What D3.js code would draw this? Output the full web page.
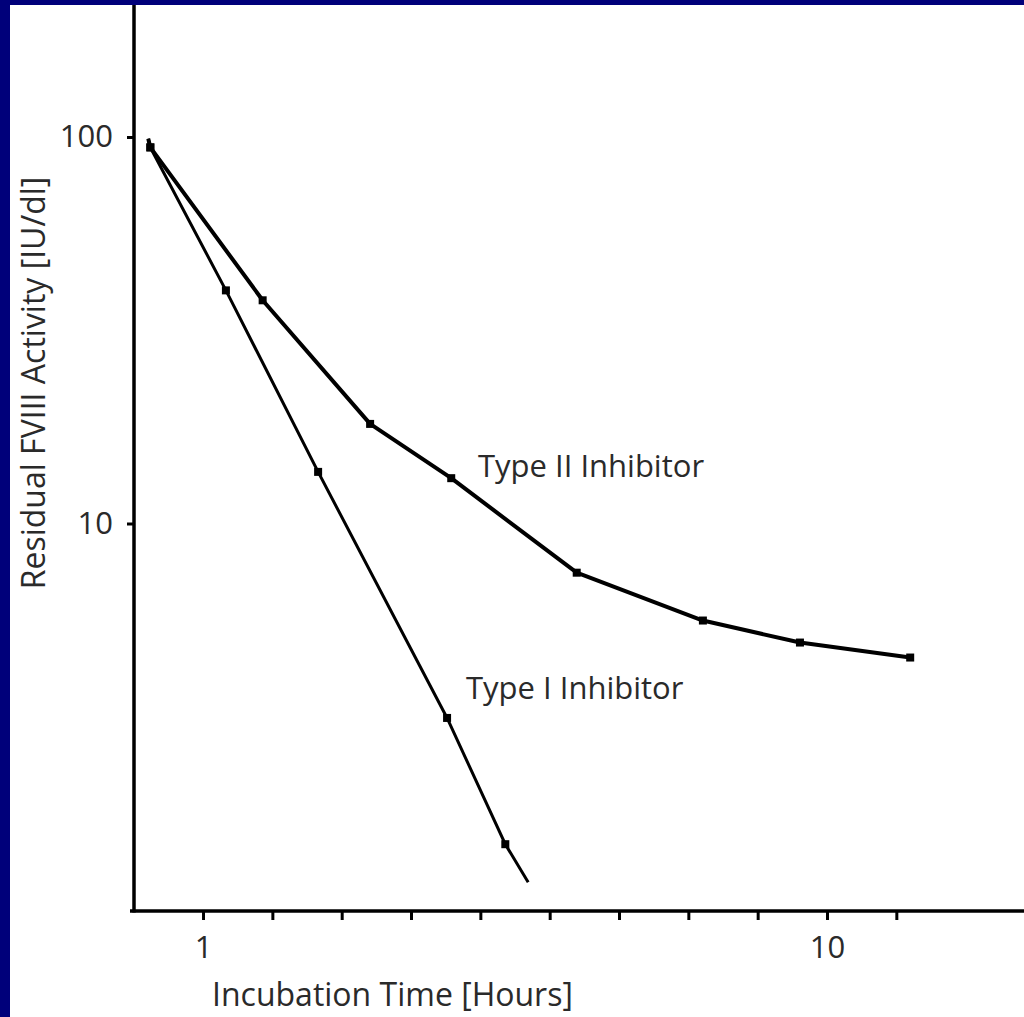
<!DOCTYPE html>
<html>
<head>
<meta charset="utf-8">
<script src="https://cdn.jsdelivr.net/npm/d3@7"></script>
<style>
  html, body { margin: 0; padding: 0; background: #00007a; }
  svg { display: block; }
  text { font-family: "Open Sans", sans-serif; fill: #2a2a2a; }
</style>
</head>
<body>
<div id="chart"></div>
<script>
// incubation time [hours] and residual FVIII activity [IU/dl]
const typeITime = [0.21, 0.24, 1.33, 2.66, 4.52, 5.36, 5.69];
const typeIActivity = [99, 94, 40.1, 13.6, 3.14, 1.48, 1.18];
const typeIMarked = [false, true, true, true, true, true, false];

const typeIITime = [0.21, 0.24, 1.86, 3.41, 4.58, 6.39, 8.21, 9.61, 11.2];
const typeIIActivity = [99, 94, 37.8, 18.1, 13.1, 7.46, 5.61, 4.92, 4.5];
const typeIIMarked = [false, true, true, true, true, true, true, true, true];

const xTicks = [1, 2, 3, 4, 5, 6, 7, 8, 9, 10, 11];
const xTickLabels = { 1: "1", 10: "10" };
const yTicks = [10, 100];

const width = 1024, height = 1017;

const svg = d3.select("#chart")
  .append("svg")
  .attr("width", width)
  .attr("height", height);

svg.append("rect")
  .attr("width", width)
  .attr("height", height)
  .attr("fill", "#00007a");

svg.append("rect")
  .attr("x", 10)
  .attr("y", 5)
  .attr("width", width - 10)
  .attr("height", height - 5)
  .attr("fill", "#fff");

const x = d3.scaleLinear()
  .domain([0, 10])
  .range([133.7, 827]);

const y = d3.scaleLog()
  .domain([1, 100])
  .range([910, 137]);

const toPoints = (times, vals, marked) =>
  times.map((t, i) => ({ t: t, v: vals[i], m: marked[i] }));

const typeI = toPoints(typeITime, typeIActivity, typeIMarked);
const typeII = toPoints(typeIITime, typeIIActivity, typeIIMarked);

// x axis
const xAxis = d3.axisBottom(x)
  .tickValues(xTicks)
  .tickSize(9)
  .tickPadding(16)
  .tickFormat(d => xTickLabels[d] || "");

const gx = svg.append("g")
  .attr("transform", "translate(0," + 911 + ")")
  .call(xAxis);
gx.select(".domain").remove();
gx.append("line")
  .attr("x1", 130).attr("x2", width)
  .attr("stroke", "#000").attr("stroke-width", 3.5);
gx.selectAll(".tick line").attr("stroke", "#000").attr("stroke-width", 3);
gx.selectAll(".tick text")
  .style("font-size", "31px")
  .style("font-family", "'Open Sans', sans-serif")
  .attr("fill", "#2a2a2a");

// y axis
const yAxis = d3.axisLeft(y)
  .tickValues(yTicks)
  .tickSize(7)
  .tickPadding(14)
  .tickFormat(d3.format("d"));

const gy = svg.append("g")
  .attr("transform", "translate(" + 134 + ",0)")
  .call(yAxis);
gy.select(".domain").remove();
gy.append("line")
  .attr("y1", 5).attr("y2", 912.5)
  .attr("stroke", "#000").attr("stroke-width", 3.5);
gy.selectAll(".tick line").attr("stroke", "#000").attr("stroke-width", 3);
gy.selectAll(".tick text")
  .style("font-size", "31px")
  .style("font-family", "'Open Sans', sans-serif")
  .attr("fill", "#2a2a2a");

// axis labels
svg.append("text")
  .attr("x", 212)
  .attr("y", 1006)
  .style("font-size", "32px")
  .text("Incubation Time [Hours]");

svg.append("text")
  .attr("transform", "translate(45," + 383 + ") rotate(-90)")
  .style("text-anchor", "middle")
  .style("font-size", "32px")
  .text("Residual FVIII Activity [IU/dl]");

// lines
const line = d3.line()
  .x(d => x(d.t))
  .y(d => y(d.v));

svg.append("path")
  .datum(typeI)
  .attr("fill", "none")
  .attr("stroke", "#000")
  .attr("stroke-width", 3)
  .attr("d", line);

svg.append("path")
  .datum(typeII)
  .attr("fill", "none")
  .attr("stroke", "#000")
  .attr("stroke-width", 4)
  .attr("stroke-linejoin", "round")
  .attr("d", line);

[typeI, typeII].forEach(series => {
  svg.selectAll(null)
    .data(series.filter(d => d.m))
    .enter()
    .append("rect")
    .attr("x", d => x(d.t) - 4)
    .attr("y", d => y(d.v) - 4)
    .attr("width", 8)
    .attr("height", 8)
    .attr("fill", "#000");
});

// series labels
svg.append("text")
  .attr("x", 478)
  .attr("y", 477)
  .style("font-size", "31px")
  .text("Type II Inhibitor");

svg.append("text")
  .attr("x", 466)
  .attr("y", 699)
  .style("font-size", "31px")
  .text("Type I Inhibitor");
</script>
</body>
</html>
